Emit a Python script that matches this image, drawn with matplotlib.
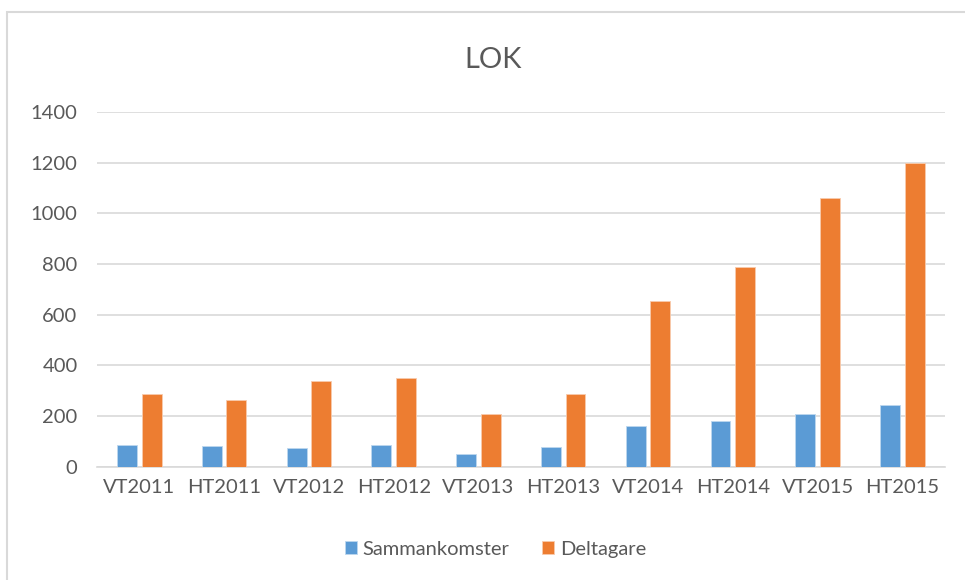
import matplotlib.pyplot as plt
import matplotlib.patches as mpatches
import numpy as np

# Data
terms = ["VT2011", "HT2011", "VT2012", "HT2012", "VT2013",
         "HT2013", "VT2014", "HT2014", "VT2015", "HT2015"]
sammankomster = [87, 82, 72, 87, 51, 76, 162, 181, 208, 242]
deltagare = [289, 263, 339, 350, 208, 288, 656, 789, 1061, 1198]

blue = "#5B9BD5"
orange = "#ED7D31"
grid_col = "#D9D9D9"
text_col = "#595959"

plt.rcParams['font.family'] = ['Lato', 'DejaVu Sans']

fig = plt.figure(figsize=(9.65, 5.8), dpi=100)
ax = fig.add_axes([0.1005, 0.1953, 0.8785, 0.6116])

x = np.arange(len(terms))
w = 0.235
ax.bar(x - 0.145, sammankomster, w, color=blue, edgecolor="#BDD7EE",
       linewidth=0.6, label="Sammankomster", zorder=3)
ax.bar(x + 0.145, deltagare, w, color=orange, edgecolor="#F8CBAD",
       linewidth=0.6, label="Deltagare", zorder=3)

ax.set_xlim(-0.5, len(terms) - 0.5)
ax.set_ylim(0, 1400)
ax.set_yticks(range(0, 1401, 200))
ax.set_xticks(x)
ax.set_xticklabels(terms)
ax.yaxis.grid(True, color=grid_col, linewidth=1.2, zorder=0)
ax.set_axisbelow(True)
for s in ["left", "right", "top"]:
    ax.spines[s].set_visible(False)
ax.spines["bottom"].set_color(grid_col)
ax.spines["bottom"].set_linewidth(1.2)
ax.tick_params(length=0, labelsize=14.5, colors=text_col, pad=9)
ax.tick_params(axis="y", pad=14)

fig.text(0.511, 0.896, "LOK", ha="center", va="center", fontsize=21,
         color=text_col)

ax.legend(loc="center", bbox_to_anchor=(0.47, -0.232), ncol=2, frameon=False,
          fontsize=14.5, labelcolor=text_col, handlelength=0.6, handleheight=0.6,
          columnspacing=1.6, handletextpad=0.3)

# chart border
fig.patches.append(mpatches.Rectangle((7 / 965, -0.05), 1.2, 1 - 12 / 580 + 0.05,
                                      transform=fig.transFigure, fill=False,
                                      edgecolor="#D9D9D9", linewidth=1.5))

fig.savefig("out.png", dpi=100)
